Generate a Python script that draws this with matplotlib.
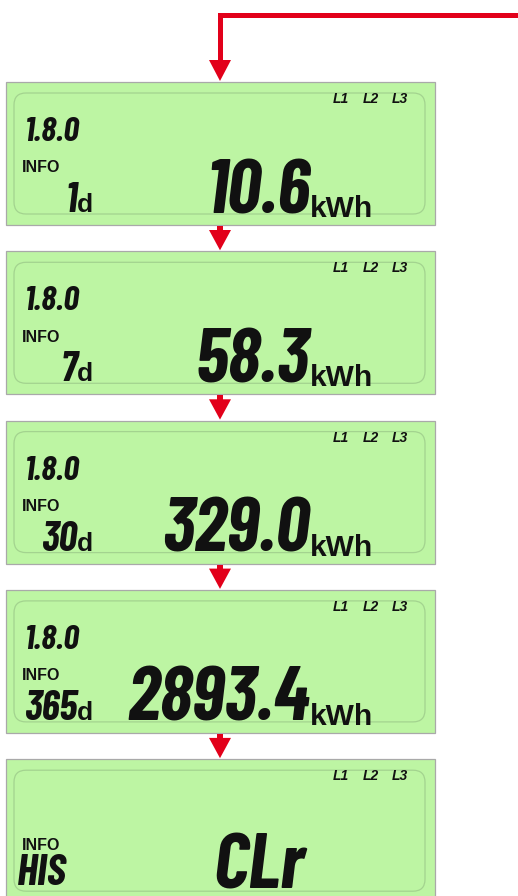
import matplotlib
matplotlib.use("Agg")
import matplotlib.pyplot as plt
from matplotlib.patches import Rectangle, FancyBboxPatch, Polygon

# ---------------- data ----------------
register_code = "1.8.0"
info_label = "INFO"
phases = ["L1", "L2", "L3"]
periods = ["1", "7", "30", "365"]
period_unit = "d"
energy_kwh = [10.6, 58.3, 329.0, 2893.4]
energy_unit = "kWh"
final_code = "HIS"
final_value = "CLr"

# ---------------- style ----------------
W, H = 518, 896
RED = "#e2001a"
LCD = "#bdf5a3"
LCD_EDGE = "#a9a9a9"
INNER_EDGE = "#a3d38f"
SEG = dict(family=["Barlow Condensed", "Roboto Condensed", "DejaVu Sans"], weight="bold",
           style="italic", color="#111111")
SANS = dict(family=["Liberation Sans", "DejaVu Sans"], weight="bold", color="#111111")
SANS_IT = dict(family=["Liberation Sans", "DejaVu Sans"], weight="bold", style="italic",
               color="#111111")

fig = plt.figure(figsize=(W / 100, H / 100), dpi=100)
ax = fig.add_axes([0, 0, 1, 1])
ax.set_xlim(0, W)
ax.set_ylim(H, 0)
ax.axis("off")

x0, x1 = 6, 435
top0, step, ph = 82, 169.3, 143
cx = 220

# entry connector
ax.plot([W, cx, cx], [15, 15, 62], color=RED, lw=3.6, solid_joinstyle="miter",
        solid_capstyle="butt")
ax.add_patch(Polygon([(cx - 11, 60), (cx + 11, 60), (cx, 81)], closed=True,
                     color=RED, lw=0))

n_panels = len(energy_kwh) + 1
for i in range(n_panels):
    top = top0 + i * step
    ax.add_patch(Rectangle((x0, top), x1 - x0, ph, facecolor=LCD,
                           edgecolor=LCD_EDGE, lw=0.9))
    ax.add_patch(FancyBboxPatch((14, top + 11), 411, ph - 22,
                                boxstyle="round,pad=0,rounding_size=12",
                                facecolor="none", edgecolor=INNER_EDGE, lw=0.9))
    # phase indicators
    for j, p in enumerate(phases):
        ax.text(333 + j * 29.5, top + 17, p, fontsize=10, ha="left",
                va="center", **SANS_IT)
    ax.text(22, top + 86, info_label, fontsize=11.5, ha="left", va="center", **SANS)

    if i < len(energy_kwh):
        ax.text(25, top + 59, register_code, fontsize=25, ha="left",
                va="baseline", **SEG)
        ax.text(77, top + 130, periods[i], fontsize=30, ha="right",
                va="baseline", **SEG)
        ax.text(77, top + 130, period_unit, fontsize=19, ha="left",
                va="baseline", **SANS)
        ax.text(310, top + 131, f"{energy_kwh[i]:.1f}", fontsize=55,
                ha="right", va="baseline", **SEG)
        ax.text(310, top + 135, energy_unit, fontsize=21.5, ha="left",
                va="baseline", **SANS)
        # arrow to the next screen
        bot = top + ph
        nxt = top0 + (i + 1) * step
        ax.add_patch(Rectangle((cx - 3, bot + 1), 6, 5, color=RED, lw=0))
        ax.add_patch(Polygon([(cx - 11, bot + 5), (cx + 11, bot + 5), (cx, nxt - 1)],
                             closed=True, color=RED, lw=0))
    else:
        ax.text(17, top + 126, final_code, fontsize=32, ha="left",
                va="baseline", **SEG)
        ax.text(305, top + 129, final_value, fontsize=56, ha="right",
                va="baseline", **SEG)

fig.savefig("out.png", dpi=100)
